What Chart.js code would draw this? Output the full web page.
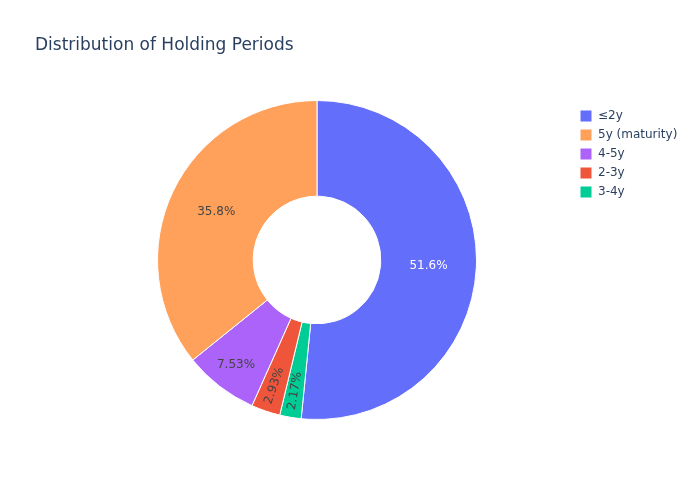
<!DOCTYPE html>
<html>
<head>
<meta charset="utf-8">
<script src="https://cdn.jsdelivr.net/npm/chart.js@4.4.1/dist/chart.umd.min.js"></script>
<style>
  html, body { margin: 0; padding: 0; background: #fff; }
  #wrap { width: 700px; height: 500px; }
</style>
</head>
<body>
<div id="wrap"><canvas id="myChart" width="700" height="500"></canvas></div>
<script>
(function () {
  'use strict';

  // slices in drawing order (clockwise from 12 o'clock)
  var periods = ['≤2y', '3-4y', '2-3y', '4-5y', '5y (maturity)'];
  var shares = [51.6, 2.17, 2.93, 7.53, 35.8];
  var shareLabels = ['51.6%', '2.17%', '2.93%', '7.53%', '35.8%'];
  var sliceColors = ['#636efa', '#00cc96', '#EF553B', '#ab63fa', '#FFA15A'];
  var labelColors = ['#ffffff', '#444444', '#444444', '#444444', '#444444'];

  var FONT = 'DejaVu Sans, sans-serif';

  // percent text inside the slices
  var sliceText = {
    id: 'sliceText',
    afterDatasetsDraw: function (chart) {
      var ctx = chart.ctx;
      var arcs = chart.getDatasetMeta(0).data;
      ctx.save();
      ctx.font = '12px ' + FONT;
      ctx.textAlign = 'center';
      ctx.textBaseline = 'middle';
      arcs.forEach(function (arc, i) {
        var p = arc.getProps(['x', 'y', 'startAngle', 'endAngle', 'innerRadius', 'outerRadius'], true);
        var mid = (p.startAngle + p.endAngle) / 2;
        var small = shares[i] < 10;
        var r = p.innerRadius + (small ? 0.72 : 0.5) * (p.outerRadius - p.innerRadius);
        var tx = p.x + Math.cos(mid) * r;
        var ty = p.y + Math.sin(mid) * r;
        ctx.fillStyle = labelColors[i];
        ctx.save();
        ctx.translate(tx, ty);
        if (shares[i] < 5) ctx.rotate(mid + Math.PI);
        ctx.fillText(shareLabels[i], 0, 0);
        ctx.restore();
      });
      ctx.restore();
    }
  };

  // legend sits in the top right corner, outside the pie area
  var legendSpot = {
    id: 'legendSpot',
    afterLayout: function (chart) {
      var lg = chart.legend;
      var w = lg.width, h = lg.height;
      lg.left = 573;
      lg.right = 573 + w;
      lg.top = 103;
      lg.bottom = 103 + h;
    }
  };

  var ctx = document.getElementById('myChart').getContext('2d');
  var myChart = new Chart(ctx, {
    type: 'doughnut',
    data: {
      labels: periods,
      datasets: [{
        data: shares,
        backgroundColor: sliceColors,
        borderColor: '#ffffff',
        borderWidth: 1,
        hoverOffset: 0
      }]
    },
    options: {
      responsive: false,
      animation: false,
      cutout: '40%',
      layout: {
        padding: { left: 35, right: 101, top: 0, bottom: 80 }
      },
      plugins: {
        tooltip: { enabled: false },
        title: {
          display: true,
          text: 'Distribution of Holding Periods',
          align: 'start',
          color: '#2a3f5f',
          font: { family: FONT, size: 17, weight: 'normal' },
          padding: { top: 35, bottom: 44.6 }
        },
        legend: {
          display: true,
          position: 'chartArea',
          align: 'start',
          labels: {
            color: '#2a3f5f',
            font: { family: FONT, size: 12 },
            boxWidth: 12,
            boxHeight: 12,
            padding: 7,
            sort: function (a, b) {
              return shares[b.index] - shares[a.index];
            }
          }
        }
      }
    },
    plugins: [sliceText, legendSpot]
  });
})();
</script>
</body>
</html>
